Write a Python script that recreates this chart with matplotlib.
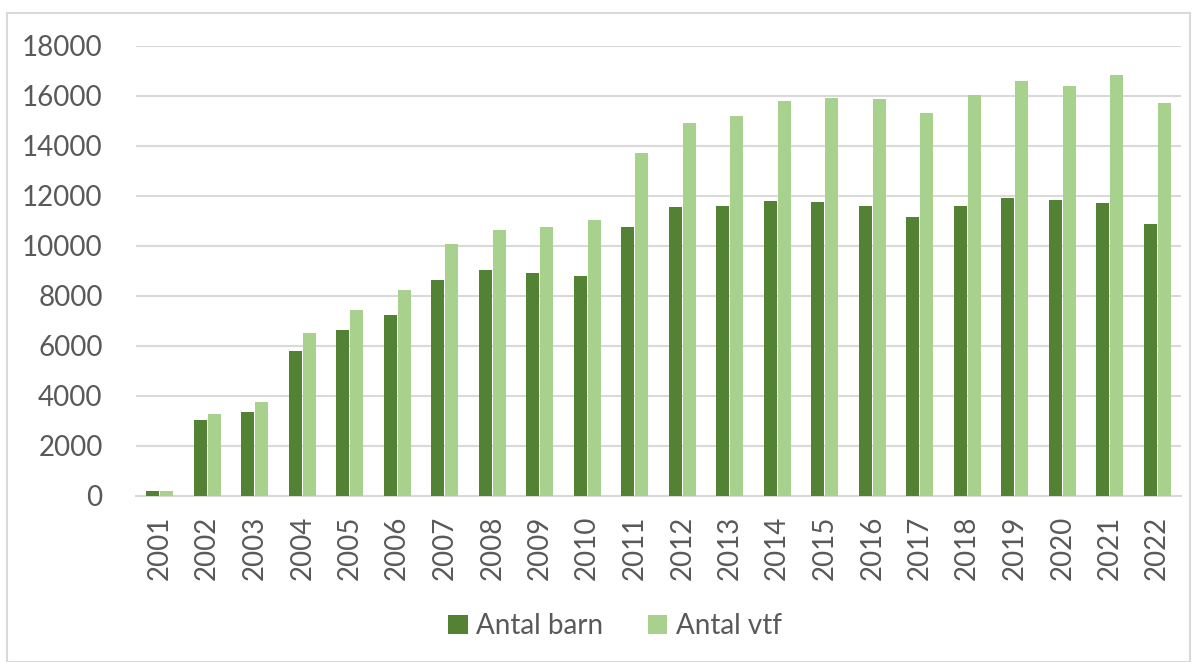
import matplotlib
matplotlib.use("Agg")
import matplotlib.pyplot as plt
import numpy as np
from matplotlib.patches import Rectangle

years = [str(y) for y in range(2001, 2023)]
antal_barn = [200, 3040, 3360, 5800, 6640, 7240, 8640, 9040, 8920, 8800, 10760,
              11560, 11600, 11800, 11760, 11600, 11160, 11600, 11920, 11840, 11720, 10880]
antal_vtf = [200, 3280, 3760, 6520, 7440, 8240, 10080, 10640, 10760, 11040, 13720,
             14920, 15200, 15800, 15920, 15880, 15320, 16040, 16600, 16400, 16840, 15720]
yticks = [0, 2000, 4000, 6000, 8000, 10000, 12000, 14000, 16000, 18000]

plt.rcParams['font.family'] = ['Lato', 'DejaVu Sans']
txt = '#595959'
grid = '#D9D9D9'

fig = plt.figure(figsize=(12, 6.62), dpi=100)
ax = fig.add_axes([136/1200, 1-496/662, (1181-136)/1200, (496-46)/662])

x = np.arange(len(years))
w = 0.27
ax.bar(x - 0.145, antal_barn, width=w, color='#548235', label='Antal barn', zorder=3)
ax.bar(x + 0.145, antal_vtf, width=w, color='#A9D18E', label='Antal vtf', zorder=3)

ax.set_xlim(-0.5, len(years) - 0.5)
ax.set_ylim(0, 18000)
ax.set_yticks(yticks)
ax.set_yticklabels([str(v) for v in yticks])
ax.set_xticks(x)
ax.set_xticklabels(years, rotation=90)
ax.tick_params(axis='both', length=0, labelsize=20, colors=txt)
ax.tick_params(axis='y', pad=24)
ax.tick_params(axis='x', pad=14)
ax.grid(axis='y', color=grid, lw=1.5, zorder=0)
for s in ['top', 'right', 'left']:
    ax.spines[s].set_visible(False)
ax.spines['bottom'].set_color(grid)
ax.spines['bottom'].set_linewidth(1.5)

leg = fig.legend(loc='center', bbox_to_anchor=(615/1200, 1-626/662), ncol=2, frameon=False,
                 fontsize=20, handlelength=0.7, handleheight=0.7, handletextpad=0.3,
                 columnspacing=1.6, labelcolor=txt)

fig.patches.append(Rectangle((7/1200, 0), (1190-7)/1200, 1-13/662, transform=fig.transFigure,
                             fill=False, edgecolor=grid, lw=1.5))

fig.savefig('out.png', dpi=100)
